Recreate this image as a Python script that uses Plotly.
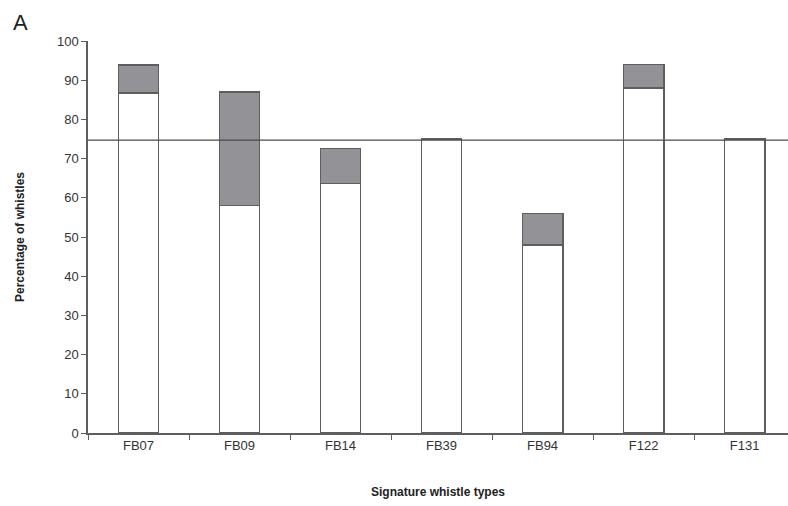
import plotly.graph_objects as go

# Signature whistle types and percentages
categories = ["FB07", "FB09", "FB14", "FB39", "FB94", "F122", "F131"]
base_pct = [86.7, 58.0, 63.6, 75.0, 48.0, 88.0, 75.0]   # white (lower) part
extra_pct = [7.2, 29.0, 9.0, 0.0, 8.0, 6.0, 0.0]        # grey (upper) part
threshold = 74.7
y_ticks = [0, 10, 20, 30, 40, 50, 60, 70, 80, 90, 100]

font_family = "Liberation Sans, Arial, sans-serif"
edge = "#5e5e5e"

fig = go.Figure()
fig.add_trace(go.Bar(
    x=categories, y=base_pct, width=0.4,
    marker=dict(color="white", line=dict(color=edge, width=1.5)),
    showlegend=False, hoverinfo="skip",
))
fig.add_trace(go.Bar(
    x=categories, y=extra_pct, width=0.4,
    marker=dict(color="#929297", line=dict(color=edge, width=1.5)),
    showlegend=False, hoverinfo="skip",
))

fig.add_shape(type="line", xref="paper", yref="y", x0=0, x1=1,
              y0=threshold, y1=threshold,
              line=dict(color="#4a4a4a", width=1.2))

# Panel letter in the top-left corner
fig.add_annotation(text="A", xref="paper", yref="paper", x=-0.11, y=1.085,
                   xanchor="left", yanchor="top", showarrow=False,
                   font=dict(size=22, color="#222", family=font_family))

fig.update_layout(
    barmode="stack",
    width=788, height=506,
    margin=dict(l=88, r=0, t=41, b=73),
    plot_bgcolor="white", paper_bgcolor="white",
    font=dict(family=font_family, size=13, color="#333"),
    xaxis=dict(
        type="category", range=[-0.5, 6.43],
        tickson="boundaries", ticks="outside", ticklen=5, tickcolor=edge,
        showline=True, linecolor=edge, linewidth=1.5, showgrid=False,
        tickfont=dict(size=13, color="#333"),
        title=dict(text="<b>Signature whistle types</b>", standoff=35,
                   font=dict(size=12, color="#222")),
    ),
    yaxis=dict(
        range=[0, 100], tickvals=y_ticks, ticks="outside", ticklen=5,
        tickcolor=edge, showline=True, linecolor=edge, linewidth=1.5,
        showgrid=False, zeroline=False,
        tickfont=dict(size=13, color="#333"),
        title=dict(text="<b>Percentage of whistles</b>", standoff=30,
                   font=dict(size=12, color="#222")),
    ),
)

fig.write_html("out.html")
